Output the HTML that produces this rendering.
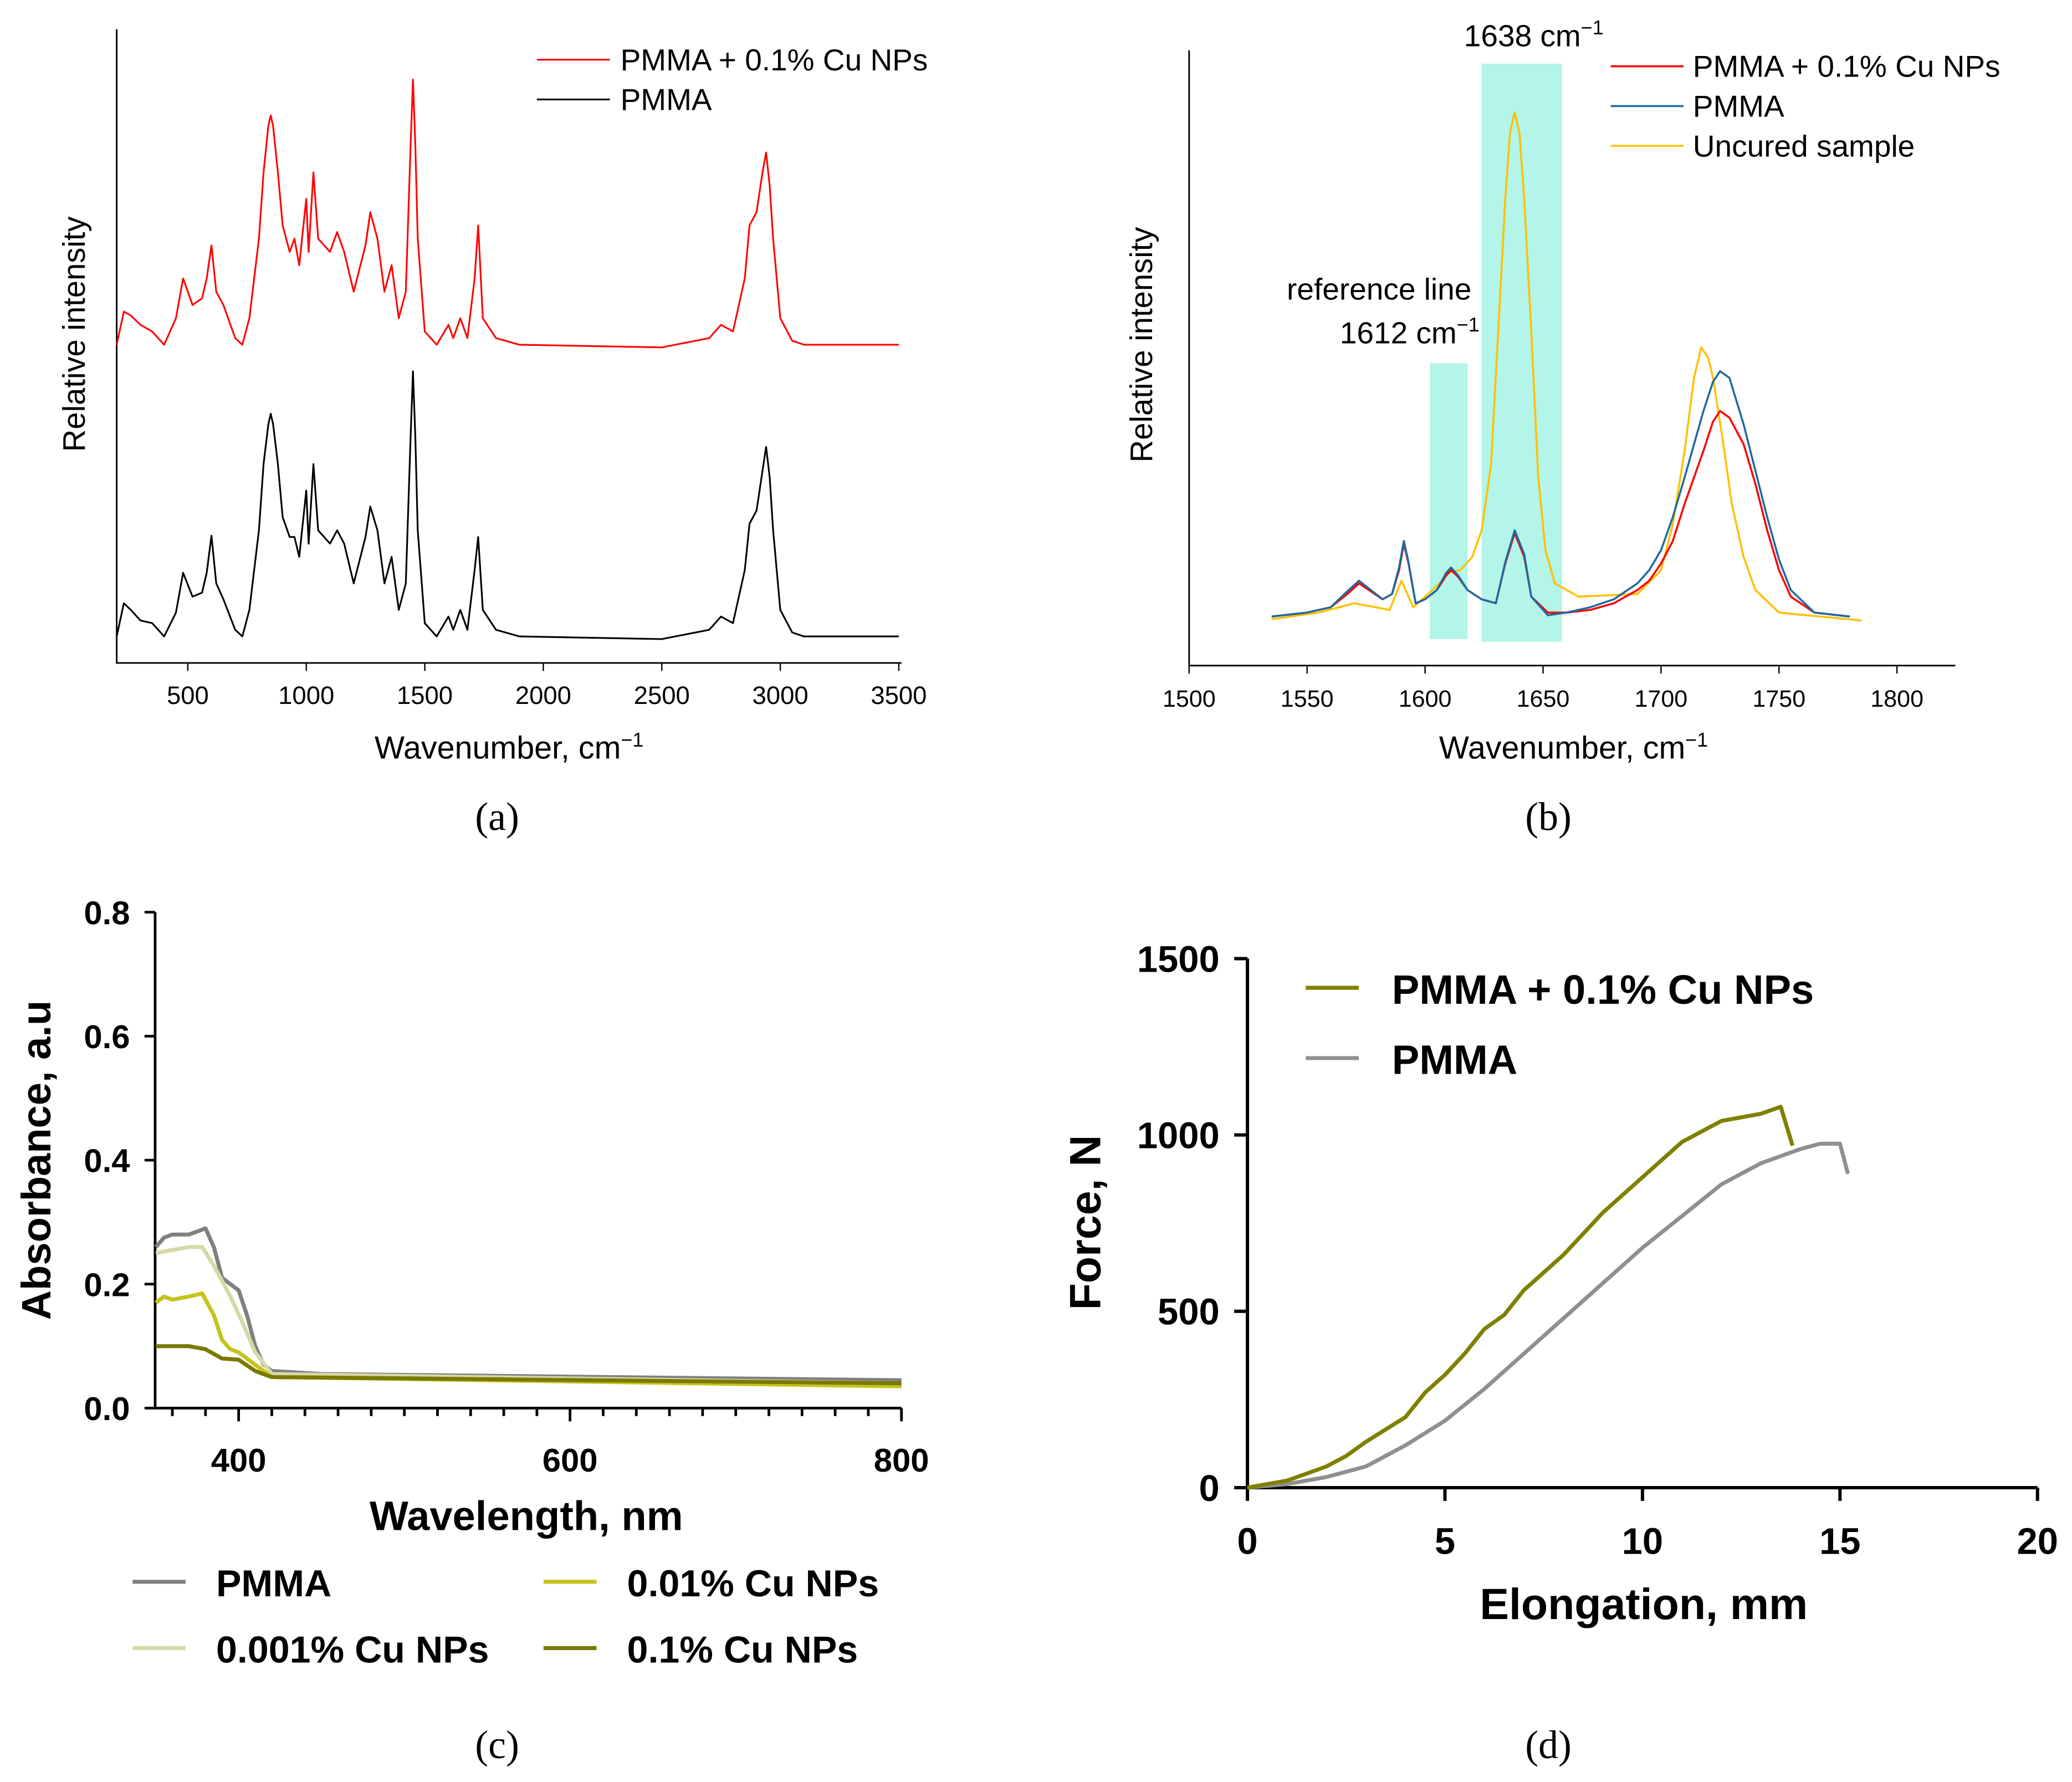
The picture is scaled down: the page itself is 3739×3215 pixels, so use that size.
<!DOCTYPE html>
<html><head><meta charset="utf-8"><style>
html,body{margin:0;padding:0;background:#fff}
svg{display:block}
text{font-family:"Liberation Sans",sans-serif}
.s{font-family:"Liberation Serif",serif}
.b{font-weight:bold}
</style></head><body>
<svg id="fig" xmlns="http://www.w3.org/2000/svg" width="3739" height="3215" viewBox="0 0 1563 1344">
<rect width="1563" height="1344" fill="#fff"/>
<g id="pa"></g>
<g id="pb"></g>
<g id="pc"></g>
<g id="pd"></g>
</svg>
<script>
// ---------- data ----------
const aTicks=[500,1000,1500,2000,2500,3000,3500];
const aRed=[[200,0],[230,25],[260,22],[300,15],[350,10],[400,0],[450,20],[480,50],[520,30],[560,35],[580,50],[600,75],[620,40],[650,30],[700,5],[730,0],[760,20],[800,80],[820,130],[840,165],[850,173],[860,165],[880,130],[900,90],[930,70],[950,80],[970,60],[1000,110],[1010,70],[1030,130],[1050,80],[1100,70],[1130,85],[1160,70],[1200,40],[1250,75],[1270,100],[1300,80],[1330,40],[1360,60],[1390,20],[1420,40],[1440,150],[1450,200],[1460,150],[1470,80],[1500,10],[1550,0],[1600,15],[1620,5],[1650,20],[1680,5],[1710,50],[1725,90],[1745,20],[1800,5],[1900,0],[2500,-2],[2700,5],[2750,15],[2800,10],[2850,50],[2870,90],[2900,100],[2925,130],[2940,145],[2955,120],[2970,80],[3000,20],[3050,3],[3100,0],[3500,0]];
const aBlack=[[200,0],[230,25],[260,20],[300,12],[350,10],[400,0],[450,18],[480,48],[520,30],[560,33],[580,48],[600,76],[620,40],[650,28],[700,5],[730,0],[760,20],[800,80],[820,130],[840,160],[850,168],[860,160],[880,130],[900,90],[930,75],[950,75],[970,60],[1000,110],[1010,70],[1030,130],[1050,80],[1100,70],[1130,80],[1160,70],[1200,40],[1250,75],[1270,98],[1300,80],[1330,40],[1360,60],[1390,20],[1420,40],[1440,150],[1450,200],[1460,150],[1470,80],[1500,10],[1550,0],[1600,15],[1620,5],[1650,20],[1680,5],[1710,50],[1725,75],[1745,20],[1800,5],[1900,0],[2500,-2],[2700,5],[2750,15],[2800,10],[2850,50],[2870,85],[2900,95],[2925,125],[2940,143],[2955,120],[2970,80],[3000,20],[3050,3],[3100,0],[3500,0]];
const bTicks=[1500,1550,1600,1650,1700,1750,1800];
const bRed=[[1535,5],[1550,8],[1560,12],[1567,22],[1572,30],[1577,24],[1582,18],[1586,22],[1589,40],[1591,60],[1593,45],[1596,15],[1600,18],[1605,25],[1609,36],[1611,40],[1614,35],[1618,25],[1624,18],[1630,15],[1634,45],[1638,68],[1642,50],[1645,20],[1652,8],[1660,8],[1670,10],[1680,15],[1690,25],[1695,32],[1700,45],[1705,62],[1710,90],[1714,110],[1718,130],[1722,152],[1725,160],[1729,155],[1735,135],[1740,105],[1745,70],[1750,40],[1755,20],[1765,8],[1780,5]];
const bBlue=[[1535,5],[1550,8],[1560,12],[1567,24],[1572,32],[1577,25],[1582,18],[1586,22],[1589,42],[1591,62],[1593,46],[1596,15],[1600,18],[1605,25],[1609,38],[1611,42],[1614,36],[1618,25],[1624,18],[1630,15],[1634,46],[1638,70],[1642,52],[1645,20],[1652,6],[1660,8],[1670,12],[1680,18],[1690,30],[1695,40],[1700,55],[1705,80],[1710,110],[1714,135],[1718,160],[1722,182],[1725,190],[1729,185],[1735,150],[1740,115],[1745,80],[1750,48],[1755,25],[1765,8],[1780,5]];
const bYel=[[1535,3],[1555,8],[1570,15],[1585,10],[1590,32],[1595,12],[1605,28],[1610,38],[1615,40],[1620,50],[1624,70],[1628,120],[1631,220],[1634,320],[1636,370],[1638,385],[1640,370],[1642,320],[1645,220],[1648,110],[1651,55],[1655,30],[1665,20],[1690,22],[1700,40],[1705,75],[1710,130],[1714,185],[1717,208],[1720,200],[1722,185],[1726,140],[1730,90],[1735,50],[1740,25],[1750,8],[1785,2]];
const cYTicks=[0,0.2,0.4,0.6,0.8];
const cXTicks=[400,600,800];
const cPMMA=[[350,0.26],[355,0.275],[360,0.28],[370,0.28],[375,0.285],[380,0.29],[385,0.26],[390,0.21],[400,0.19],[405,0.15],[410,0.10],[415,0.07],[420,0.06],[450,0.055],[800,0.045]];
const c001=[[350,0.25],[360,0.255],[370,0.26],[378,0.26],[385,0.23],[395,0.18],[402,0.14],[410,0.09],[420,0.055],[800,0.04]];
const c01=[[350,0.17],[355,0.18],[360,0.175],[370,0.18],[378,0.185],[385,0.15],[390,0.11],[395,0.095],[400,0.09],[410,0.07],[420,0.05],[800,0.035]];
const c1=[[350,0.10],[370,0.10],[380,0.095],[390,0.08],[400,0.078],[410,0.06],[420,0.05],[800,0.04]];
const dYTicks=[0,500,1000,1500];
const dXTicks=[0,5,10,15,20];
const dCu=[[0,0],[0.5,10],[1,20],[1.5,40],[2,60],[2.5,90],[3,130],[4,200],[4.5,270],[5,320],[5.5,380],[6,450],[6.5,490],[7,560],[8,660],[9,780],[10,880],[11,980],[12,1040],[13,1060],[13.5,1080],[13.8,970]];
const dPM=[[0,0],[1,10],[2,30],[3,60],[4,120],[5,190],[6,280],[7,380],[8,480],[9,580],[10,680],[11,770],[12,860],[13,920],[14,960],[14.5,975],[15,975],[15.2,890]];
// ---------- helpers ----------
const NS="http://www.w3.org/2000/svg";
function mk(p,t,a,txt){const e=document.createElementNS(NS,t);for(const k in a)e.setAttribute(k,a[k]);if(txt!==undefined)e.innerHTML=txt;p.appendChild(e);return e;}
function line(p,d,sx,sy,col,w,name){const el=mk(p,'polyline',{points:d.map(q=>sx(q[0]).toFixed(1)+','+sy(q[1]).toFixed(1)).join(' '),fill:'none',stroke:col,'stroke-width':w,'stroke-linejoin':'round'});

return el;}
function txt(p,x,y,s,size,extra,name){const a=Object.assign({x:x,y:y,'font-size':size},extra||{});const el=mk(p,'text',a,s);

return el;}
// ---------- panel a ----------
(function(){const g=document.getElementById('pa');
const sx=v=>88+(v-200)*0.17879, syR=v=>260-v, syB=v=>480-v;
mk(g,'path',{d:'M88,22V500H680',fill:'none',stroke:'#000','stroke-width':1.2});
aTicks.forEach(t=>{mk(g,'line',{x1:sx(t),x2:sx(t),y1:500,y2:506,stroke:'#000'});txt(g,sx(t),531,t,19,{'text-anchor':'middle'},'x-tick-label');});
line(g,aRed,sx,syR,'#ff0000',1.3,'red-spectrum');
line(g,aBlack,sx,syB,'#000',1.3,'black-spectrum');
mk(g,'line',{x1:405,x2:460,y1:45,y2:45,stroke:'#f00','stroke-width':1.3});
mk(g,'line',{x1:405,x2:460,y1:75,y2:75,stroke:'#000','stroke-width':1.3});
txt(g,468,53,'PMMA + 0.1% Cu NPs',23,{},'legend-cu');
txt(g,468,83,'PMMA',23,{},'legend-pmma');
txt(g,64,252,'Relative intensity',23.5,{'text-anchor':'middle',transform:'rotate(-90 64 252)'},'y-axis-title');
txt(g,384,572,'Wavenumber, cm<tspan dy="-9" font-size="15">−1</tspan>',24,{'text-anchor':'middle'},'x-axis-title');
txt(g,375,626,'(a)',30,{'text-anchor':'middle',class:'s'},'panel-label');})();
// ---------- panel b ----------
(function(){const g=document.getElementById('pb');
const sx=v=>897+(v-1500)*1.78, sy=v=>470-v;
mk(g,'rect',{x:sx(1602),y:274,width:sx(1618)-sx(1602),height:208,fill:'#b3f5e8'});
mk(g,'rect',{x:sx(1624),y:48,width:sx(1658)-sx(1624),height:436,fill:'#b3f5e8'});
mk(g,'path',{d:'M897,38V502H1475',fill:'none',stroke:'#000','stroke-width':1.2});
bTicks.forEach(t=>{mk(g,'line',{x1:sx(t),x2:sx(t),y1:502,y2:508,stroke:'#000'});txt(g,sx(t),533,t,18,{'text-anchor':'middle'},'x-tick-label');});
line(g,bYel,sx,sy,'#ffc000',1.5,'uncured-spectrum');
line(g,bRed,sx,sy,'#ff0000',1.5,'cu-spectrum');
line(g,bBlue,sx,sy,'#1f6aa0',1.5,'pmma-spectrum');
[['#ff0000',50,'PMMA + 0.1% Cu NPs'],['#1f6aa0',80,'PMMA'],['#ffc000',110,'Uncured sample']].forEach(l=>{mk(g,'line',{x1:1215,x2:1270,y1:l[1],y2:l[1],stroke:l[0],'stroke-width':1.5});txt(g,1277,l[1]+8,l[2],23,{},'legend-entry');});
txt(g,1157,35,'1638 cm<tspan dy="-9" font-size="15">−1</tspan>',23,{'text-anchor':'middle'},'annotation-1638');
txt(g,1110,226,'reference line',23,{'text-anchor':'end'},'annotation-reference');
txt(g,1116,259,'1612 cm<tspan dy="-9" font-size="15">−1</tspan>',23,{'text-anchor':'end'},'annotation-1612');
txt(g,869,260,'Relative intensity',23.5,{'text-anchor':'middle',transform:'rotate(-90 869 260)'},'y-axis-title');
txt(g,1187,572,'Wavenumber, cm<tspan dy="-9" font-size="15">−1</tspan>',24,{'text-anchor':'middle'},'x-axis-title');
txt(g,1168,626,'(b)',30,{'text-anchor':'middle',class:'s'},'panel-label');})();
// ---------- panel c ----------
(function(){const g=document.getElementById('pc');
const sx=v=>117.5+(v-350)*1.25, sy=v=>1062-v*467.5;
mk(g,'path',{d:'M117,688V1062H680',fill:'none',stroke:'#000','stroke-width':2});
cYTicks.forEach(t=>{mk(g,'line',{x1:109,x2:117,y1:sy(t),y2:sy(t),stroke:'#000','stroke-width':2});txt(g,98,sy(t)+9,t.toFixed(1),25,{'text-anchor':'end',class:'b'},'y-tick-label');});
for(let v=360;v<=800;v+=20){const major=cXTicks.includes(v);mk(g,'line',{x1:sx(v),x2:sx(v),y1:1062,y2:major?1072:1068,stroke:'#000','stroke-width':2});}
cXTicks.forEach(t=>txt(g,sx(t),1110,t,25,{'text-anchor':'middle',class:'b'},'x-tick-label'));
line(g,cPMMA,sx,sy,'#808080',3,'pmma-line');
line(g,c001,sx,sy,'#d8d8a8',3,'cu-0001-line');
line(g,c01,sx,sy,'#c4c41c',3,'cu-001-line');
line(g,c1,sx,sy,'#7a7a00',3,'cu-01-line');
[['#808080',100,1193,'PMMA'],['#d8d8a8',100,1243,'0.001% Cu NPs'],['#c4c41c',410,1193,'0.01% Cu NPs'],['#7a7a00',410,1243,'0.1% Cu NPs']].forEach(l=>{mk(g,'line',{x1:l[1],x2:l[1]+40,y1:l[2],y2:l[2],stroke:l[0],'stroke-width':3});txt(g,l[1]+63,l[2]+11,l[3],28.5,{class:'b'},'legend-entry');});
txt(g,38,875,'Absorbance, a.u',31,{'text-anchor':'middle',class:'b',transform:'rotate(-90 38 875)'},'y-axis-title');
txt(g,397,1154,'Wavelength, nm',31,{'text-anchor':'middle',class:'b'},'x-axis-title');
txt(g,375,1326,'(c)',30,{'text-anchor':'middle',class:'s'},'panel-label');})();
// ---------- panel d ----------
(function(){const g=document.getElementById('pd');
const sx=v=>941+v*29.8, sy=v=>1122-v*0.266;
mk(g,'path',{d:'M941,723V1122H1537',fill:'none',stroke:'#000','stroke-width':2.5});
dYTicks.forEach(t=>{mk(g,'line',{x1:931,x2:941,y1:sy(t),y2:sy(t),stroke:'#000','stroke-width':2.5});txt(g,920,sy(t)+10,t,28,{'text-anchor':'end',class:'b'},'y-tick-label');});
dXTicks.forEach(t=>{mk(g,'line',{x1:sx(t),x2:sx(t),y1:1122,y2:1132,stroke:'#000','stroke-width':2.5});txt(g,sx(t),1172,t,28,{'text-anchor':'middle',class:'b'},'x-tick-label');});
line(g,dPM,sx,sy,'#909090',3,'pmma-line');
line(g,dCu,sx,sy,'#808000',3,'cu-line');
mk(g,'line',{x1:985,x2:1025,y1:745,y2:745,stroke:'#808000','stroke-width':3});
mk(g,'line',{x1:985,x2:1025,y1:798,y2:798,stroke:'#909090','stroke-width':3});
txt(g,1050,757,'PMMA + 0.1% Cu NPs',31,{class:'b'},'legend-cu');
txt(g,1050,810,'PMMA',31,{class:'b'},'legend-pmma');
txt(g,830,922,'Force, N',33,{'text-anchor':'middle',class:'b',transform:'rotate(-90 830 922)'},'y-axis-title');
txt(g,1240,1221,'Elongation, mm',33,{'text-anchor':'middle',class:'b'},'x-axis-title');
txt(g,1168,1326,'(d)',30,{'text-anchor':'middle',class:'s'},'panel-label');})();
</script>
</body></html>
